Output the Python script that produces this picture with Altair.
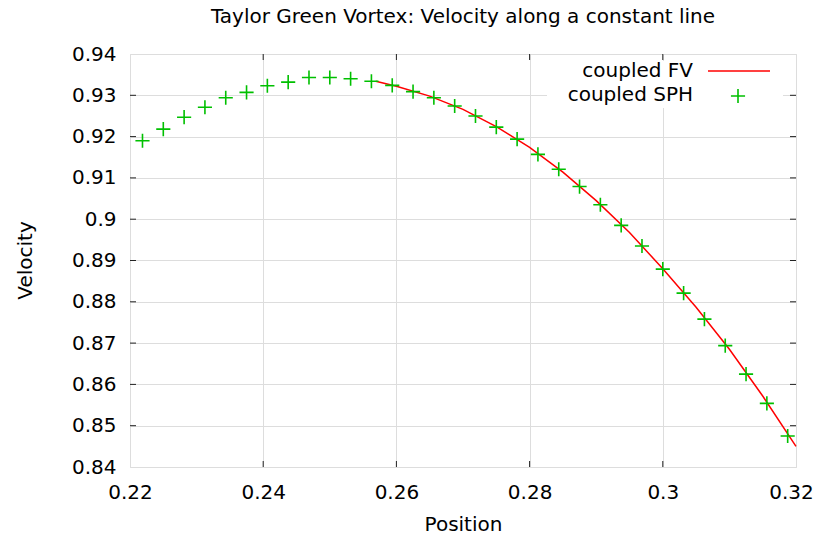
import altair as alt
import pandas as pd

# ---- data ----
sph_x = [0.221875, 0.225, 0.228125, 0.23125, 0.234375, 0.2375, 0.240625, 0.24375,
         0.246875, 0.25, 0.253125, 0.25625, 0.259375, 0.2625, 0.265625, 0.26875,
         0.271875, 0.275, 0.278125, 0.28125, 0.284375, 0.2875, 0.290625, 0.29375,
         0.296875, 0.3, 0.303125, 0.30625, 0.309375, 0.3125, 0.315625, 0.31875]
sph_v = [0.9190, 0.9218, 0.9247, 0.9271, 0.9294, 0.9307, 0.9323, 0.9332,
         0.9343, 0.9343, 0.9340, 0.9334, 0.9324, 0.9309, 0.9294, 0.9274,
         0.9250, 0.9223, 0.9194, 0.9157, 0.9121, 0.9079, 0.9035, 0.8985,
         0.8935, 0.8879, 0.8821, 0.8758, 0.8694, 0.8625, 0.8554, 0.8475]

fv_x = [0.2569, 0.26, 0.265, 0.27, 0.275, 0.28, 0.285, 0.29, 0.295,
        0.30, 0.305, 0.31, 0.315, 0.32]
fv_v = [0.9334, 0.9322, 0.9298, 0.9266, 0.9224, 0.9174, 0.9114, 0.9045, 0.8968,
        0.8880, 0.8787, 0.8685, 0.8572, 0.8450]

x_ticks = [0.22, 0.24, 0.26, 0.28, 0.30, 0.32]
y_ticks = [0.84, 0.85, 0.86, 0.87, 0.88, 0.89, 0.90, 0.91, 0.92, 0.93, 0.94]
series_names = ["coupled FV", "coupled SPH"]
title_text = "Taylor Green Vortex: Velocity along a constant line"

FONT = "DejaVu Sans"
FS = 20
W, H = 666, 413
RED = "#ff0000"
GREEN = "#00c000"
PLUS = "M-1,0L1,0M0,-1L0,1"

sph = pd.DataFrame({"x": sph_x, "v": sph_v})
fv = pd.DataFrame({"x": fv_x, "v": fv_v})

xs = alt.Scale(domain=[0.22, 0.32], nice=False, zero=False)
ys = alt.Scale(domain=[0.84, 0.94], nice=False, zero=False)

xaxis = alt.Axis(values=x_ticks, grid=True, ticks=False, domain=False,
                 labelFontSize=FS, labelFont=FONT, labelColor="black",
                 labelPadding=15, labelExpr="format(datum.value, '~g')",
                 labelOffset={"condition": {"test": "datum.value > 0.319", "value": -5},
                              "value": 0},
                 labelFlush=False, title="Position", titleFont=FONT,
                 titleFontSize=FS, titleFontWeight="normal", titleColor="black",
                 titleY=57, titleBaseline="middle")
yaxis = alt.Axis(values=y_ticks, grid=True, ticks=False, domain=False,
                 labelFontSize=FS, labelFont=FONT, labelColor="black",
                 labelPadding=14, labelExpr="format(datum.value, '~g')",
                 labelFlush=False, title="Velocity", titleFont=FONT,
                 titleFontSize=FS, titleFontWeight="normal", titleColor="black",
                 titleX=-105, titleY=206, titleAngle=-90,
                 titleAlign="center", titleBaseline="middle")

base_grid = alt.Chart(sph).mark_point(opacity=0).encode(
    x=alt.X("x:Q", scale=xs, axis=xaxis),
    y=alt.Y("v:Q", scale=ys, axis=yaxis),
)

xt = pd.DataFrame({"t": x_ticks[1:-1]})
yt = pd.DataFrame({"t": y_ticks[1:-1]})
tick_style = dict(color="#222222", strokeWidth=1)
xtick_bot = alt.Chart(xt).mark_rule(**tick_style).encode(
    x=alt.X("t:Q", scale=xs), y=alt.value(H), y2=alt.value(H - 6))
xtick_top = alt.Chart(xt).mark_rule(**tick_style).encode(
    x=alt.X("t:Q", scale=xs), y=alt.value(0), y2=alt.value(6))
ytick_l = alt.Chart(yt).mark_rule(**tick_style).encode(
    y=alt.Y("t:Q", scale=ys), x=alt.value(0), x2=alt.value(6))
ytick_r = alt.Chart(yt).mark_rule(**tick_style).encode(
    y=alt.Y("t:Q", scale=ys), x=alt.value(W), x2=alt.value(W - 6))

legend_bg = alt.Chart(pd.DataFrame({"a": [0]})).mark_rect(color="white").encode(
    x=alt.value(417), x2=alt.value(653), y=alt.value(7), y2=alt.value(54))

line = alt.Chart(fv).mark_line(color=RED, strokeWidth=1.5).encode(
    x=alt.X("x:Q", scale=xs), y=alt.Y("v:Q", scale=ys))
pts = alt.Chart(sph).mark_point(shape=PLUS, filled=False, color=GREEN,
                                strokeWidth=1.6, size=200, opacity=1).encode(
    x=alt.X("x:Q", scale=xs), y=alt.Y("v:Q", scale=ys))

leg1 = alt.Chart(pd.DataFrame({"label": [series_names[0]]})).mark_text(
    align="right", baseline="middle", font=FONT, fontSize=FS, color="black").encode(
    text="label:N", x=alt.value(563), y=alt.value(17))
leg2 = alt.Chart(pd.DataFrame({"label": [series_names[1]]})).mark_text(
    align="right", baseline="middle", font=FONT, fontSize=FS, color="black").encode(
    text="label:N", x=alt.value(563), y=alt.value(41))
leg_line = alt.Chart(pd.DataFrame({"a": [0]})).mark_rule(color=RED, strokeWidth=1.5).encode(
    x=alt.value(578), x2=alt.value(640), y=alt.value(17))
leg_pt = alt.Chart(pd.DataFrame({"a": [0]})).mark_point(
    shape=PLUS, filled=False, color=GREEN, strokeWidth=1.6, size=200, opacity=1).encode(
    x=alt.value(608), y=alt.value(42))

chart = alt.layer(
    base_grid, legend_bg, xtick_bot, xtick_top, ytick_l, ytick_r,
    line, pts, leg1, leg2, leg_line, leg_pt
).properties(
    width=W, height=H,
    title=alt.TitleParams(title_text, font=FONT, fontSize=FS, fontWeight="normal",
                          color="black", anchor="middle", offset=17),
    autosize=alt.AutoSizeParams(type="none"),
    padding={"left": 122, "top": 46, "right": 19, "bottom": 67},
).configure_view(
    stroke="#808080", strokeWidth=1.5
).configure_axis(
    gridColor="#9a9a9a", gridDash=[1, 3], gridWidth=1, gridOpacity=1
).configure(background="white")

chart.save("out.html", embed_options={"renderer": "svg", "actions": False})
